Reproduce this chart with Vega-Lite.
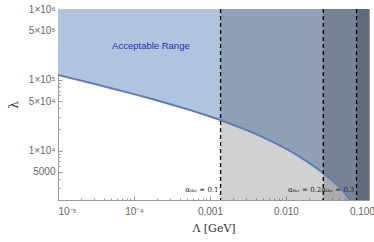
{
  "$schema": "https://vega.github.io/schema/vega-lite/v6.json",
  "width": 311,
  "height": 191,
  "autosize": "none",
  "padding": {"left": 58, "top": 9, "right": 5, "bottom": 42},
  "background": "white",
  "config": {
    "view": {"stroke": "#9a9a9a", "strokeWidth": 1},
    "axis": {"domainColor": "#9a9a9a", "tickColor": "#9a9a9a", "labelColor": "#666666", "labelFont": "Liberation Sans", "labelFontSize": 10, "grid": false, "titleFont": "DejaVu Serif", "titleFontWeight": "normal", "titleColor": "#333333", "titleFontSize": 11}
  },
  "datasets": {
    "curve": [
      {"L": 0.00001, "lam": 117000},
      {"L": 0.0000178, "lam": 100500},
      {"L": 0.0000316, "lam": 86200},
      {"L": 0.0000562, "lam": 73600},
      {"L": 0.0001, "lam": 62700},
      {"L": 0.000178, "lam": 53000},
      {"L": 0.000316, "lam": 44400},
      {"L": 0.000562, "lam": 36900},
      {"L": 0.001, "lam": 30200},
      {"L": 0.00178, "lam": 24300},
      {"L": 0.00316, "lam": 19100},
      {"L": 0.00562, "lam": 14500},
      {"L": 0.01, "lam": 10600},
      {"L": 0.0178, "lam": 7300},
      {"L": 0.0316, "lam": 4700},
      {"L": 0.0562, "lam": 2700},
      {"L": 0.0695, "lam": 2010},
      {"L": 0.1, "lam": 1260},
      {"L": 0.126, "lam": 906}
    ],
    "bands": [
      {"start": 0.00138, "label": "αₜₕᵣ = 0.1"},
      {"start": 0.031, "label": "αₜₕᵣ = 0.2"},
      {"start": 0.085, "label": "αₜₕᵣ = 0.3"}
    ],
    "annot": [{"L": 0.000167, "lam": 300000, "text": "Acceptable Range"}]
  },
  "layer": [
    {
      "data": {"name": "curve"},
      "mark": {"type": "area", "color": "#b0c4de", "opacity": 1, "clip": true, "interpolate": "monotone"},
      "encoding": {
        "x": {"field": "L", "type": "quantitative", "scale": {"type": "log", "domain": [0.00001, 0.124], "nice": false},
          "axis": {
            "title": "Λ [GeV]", "titlePadding": 6,
            "values": [0.00001,0.00002,0.00003,0.00004,0.00005,0.00006,0.00007,0.00008,0.00009,0.0001,0.0002,0.0003,0.0004,0.0005,0.0006,0.0007,0.0008,0.0009,0.001,0.002,0.003,0.004,0.005,0.006,0.007,0.008,0.009,0.01,0.02,0.03,0.04,0.05,0.06,0.07,0.08,0.09,0.1],
            "tickSize": {"condition": {"test": "indexof([0.00001,0.0001,0.001,0.01,0.1], datum.value) >= 0", "value": -4}, "value": -2},
            "labelExpr": "indexof([0.00001,0.0001,0.001,0.01,0.1], datum.value) < 0 ? '' : datum.value < 0.00002 ? '10⁻⁵' : datum.value < 0.0002 ? '10⁻⁴' : format(datum.value, '.3f')",
            "labelPadding": 10
          }},
        "y": {"field": "lam", "type": "quantitative", "scale": {"type": "log", "domain": [2000, 1000000], "nice": false},
          "axis": {
            "title": "λ", "titlePadding": 8, "titleFontSize": 12,
            "values": [2000,3000,4000,5000,6000,7000,8000,9000,10000,20000,30000,40000,50000,60000,70000,80000,90000,100000,200000,300000,400000,500000,600000,700000,800000,900000,1000000],
            "tickSize": {"condition": {"test": "indexof([5000,10000,50000,100000,500000,1000000], datum.value) >= 0", "value": -4}, "value": -2},
            "labelExpr": "datum.value == 5000 ? '5000' : datum.value == 10000 ? '1×10⁴' : datum.value == 50000 ? '5×10⁴' : datum.value == 100000 ? '1×10⁵' : datum.value == 500000 ? '5×10⁵' : datum.value == 1000000 ? '1×10⁶' : ''",
            "labelPadding": 7
          }},
        "y2": {"datum": 1000000}
      }
    },
    {
      "data": {"name": "bands"},
      "mark": {"type": "rect", "color": "black", "opacity": 0.18, "clip": true},
      "encoding": {
        "x": {"field": "start", "type": "quantitative"},
        "x2": {"datum": 0.2},
        "y": {"datum": 1000},
        "y2": {"datum": 1000000}
      }
    },
    {
      "data": {"name": "curve"},
      "mark": {"type": "line", "color": "#5b7fb5", "strokeWidth": 2, "clip": true, "interpolate": "monotone"},
      "encoding": {
        "x": {"field": "L", "type": "quantitative"},
        "y": {"field": "lam", "type": "quantitative"}
      }
    },
    {
      "data": {"name": "bands"},
      "mark": {"type": "rule", "color": "black", "strokeWidth": 1.3, "strokeDash": [4, 3]},
      "encoding": {
        "x": {"field": "start", "type": "quantitative"}
      }
    },
    {
      "data": {"name": "bands"},
      "mark": {"type": "text", "align": "right", "baseline": "middle", "dx": -2, "font": "DejaVu Serif", "fontSize": 7, "color": "#222222"},
      "encoding": {
        "x": {"field": "start", "type": "quantitative"},
        "y": {"datum": 2800},
        "text": {"field": "label"}
      }
    },
    {
      "data": {"name": "annot"},
      "mark": {"type": "text", "align": "center", "baseline": "middle", "font": "Liberation Sans", "fontSize": 9.5, "color": "#2a2ab8"},
      "encoding": {
        "x": {"field": "L", "type": "quantitative"},
        "y": {"field": "lam", "type": "quantitative"},
        "text": {"field": "text"}
      }
    }
  ]
}
